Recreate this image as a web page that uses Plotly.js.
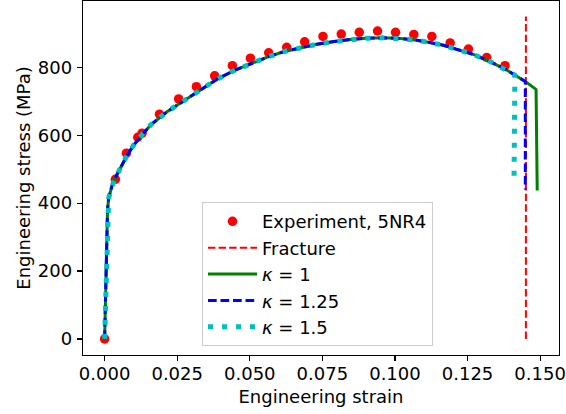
<!DOCTYPE html>
<html>
<head>
<meta charset="utf-8">
<script src="https://cdn.plot.ly/plotly-3.0.1.min.js"></script>
<style>html,body{margin:0;padding:0;background:#fff;}#chart{width:566px;height:414px;}</style>
</head>
<body>
<div id="chart"></div>
<script>
// Experiment, 5NR4
var expStrain = [0, 0.0037, 0.0075, 0.0114, 0.0129, 0.0189, 0.0255, 0.0316, 0.0379, 0.0440, 0.0502, 0.0565, 0.0627, 0.0689, 0.0752, 0.0815, 0.0877, 0.0940, 0.1002, 0.1065, 0.1127, 0.1190, 0.1253, 0.1316, 0.1379];
var expStress = [0, 470, 547, 594, 606, 662, 707, 743, 775, 805, 827, 843, 859, 875, 891, 898, 903, 907, 903, 897, 891, 872, 854, 829, 805];

// Fracture strain
var fractureStrain = [0.1451, 0.1451];
var fractureStress = [0, 950];

// Shared model curve (all kappa values coincide up to here)
var baseStrain = [0, 0.0005, 0.0010, 0.0014, 0.0025, 0.0040, 0.0055, 0.0077, 0.0100, 0.0130, 0.0158, 0.0215, 0.0272, 0.0330, 0.0387, 0.0445, 0.0502, 0.0560, 0.0616, 0.0675, 0.0731, 0.0790, 0.0846, 0.0900, 0.0960, 0.1018, 0.1075, 0.1120, 0.1167, 0.1213, 0.1270, 0.1328, 0.1385];
var baseStress = [0, 190, 380, 415, 450, 480, 505, 540, 571, 603, 630, 669, 701, 734, 765, 790, 811, 830, 846, 858, 868, 876, 882, 885.5, 887, 885, 880, 873, 865, 853, 838, 817, 792];

// Tails after the shared curve
var k1TailStrain = [0.1415, 0.1449, 0.1486, 0.1490];
var k1TailStress = [776, 758, 735, 437];
var k125TailStrain = [0.1415, 0.1449, 0.1449];
var k125TailStress = [776, 758, 440];
var k15TailStrain = [0.1413, 0.1410];
var k15TailStress = [777, 465];

var xTicks = [0, 0.025, 0.05, 0.075, 0.1, 0.125, 0.15];
var yTicks = [0, 200, 400, 600, 800];

var FONT = 'DejaVu Sans, sans-serif';

var traces = [
  {x: expStrain, y: expStress, mode: 'markers', name: 'Experiment, 5NR4',
   marker: {color: '#ff0000', size: 9.5}},
  {x: fractureStrain, y: fractureStress, mode: 'lines', name: 'Fracture',
   line: {color: '#ff0000', width: 2, dash: '7.4px,3.2px'}},
  {x: baseStrain.concat(k1TailStrain), y: baseStress.concat(k1TailStress), mode: 'lines', name: '<i>κ</i> = 1',
   line: {color: '#008000', width: 3}},
  {x: baseStrain.concat(k125TailStrain), y: baseStress.concat(k125TailStress), mode: 'lines', name: '<i>κ</i> = 1.25',
   line: {color: '#0000ff', width: 3, dash: '8.7px,3.8px'}},
  {x: baseStrain.concat(k15TailStrain), y: baseStress.concat(k15TailStress), mode: 'lines', name: '<i>κ</i> = 1.5',
   line: {color: '#00bfbf', width: 5, dash: '5px,9px'}}
];

var layout = {
  width: 566, height: 414,
  margin: {l: 83, r: 7, t: 1, b: 59},
  paper_bgcolor: '#ffffff', plot_bgcolor: '#ffffff',
  font: {family: FONT, size: 18, color: '#000000'},
  showlegend: true,
  legend: {
    x: 0.25, y: 0.432, xanchor: 'left', yanchor: 'top',
    bgcolor: 'rgba(255,255,255,0.8)', bordercolor: '#cccccc', borderwidth: 1,
    font: {family: FONT, size: 18, color: '#000000'},
    itemwidth: 49
  },
  xaxis: {
    range: [-0.00745, 0.1565],
    tickvals: xTicks, tickformat: '.3f',
    ticks: 'outside', ticklen: 5, tickwidth: 1.2, tickcolor: '#000',
    ticklabelstandoff: -3,
    showline: true, mirror: true, linecolor: '#000', linewidth: 1.2,
    showgrid: false, zeroline: false,
    tickfont: {family: FONT, size: 18, color: '#000'},
    title: {text: 'Engineering strain', font: {family: FONT, size: 18, color: '#000'}, standoff: 7}
  },
  yaxis: {
    range: [-47.4, 995.4],
    tickvals: yTicks,
    ticks: 'outside', ticklen: 5, tickwidth: 1.2, tickcolor: '#000',
    ticklabelstandoff: 1,
    showline: true, mirror: true, linecolor: '#000', linewidth: 1.2,
    showgrid: false, zeroline: false,
    tickfont: {family: FONT, size: 18, color: '#000'},
    title: {text: 'Engineering stress (MPa)', font: {family: FONT, size: 18, color: '#000'}, standoff: 2}
  }
};

Plotly.newPlot('chart', traces, layout, {displayModeBar: false, staticPlot: true});
</script>
</body>
</html>
